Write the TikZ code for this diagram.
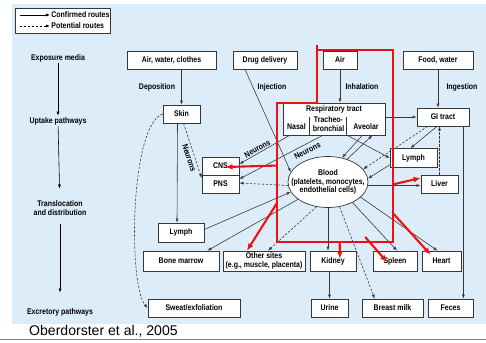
\documentclass[tikz,border=0pt]{standalone}
\usepackage{fontspec}
\setmainfont{Liberation Sans}[FakeStretch=0.85]
\newfontfamily\citefont{Liberation Sans}
\usetikzlibrary{arrows.meta,calc,shapes.geometric}
\definecolor{panelblue}{RGB}{221,236,249}
\definecolor{linegray}{RGB}{55,55,55}
\definecolor{routered}{RGB}{236,18,18}
\begin{document}
\begin{tikzpicture}
		[x=0.03cm,y=-0.03cm,
		box/.style={rectangle,draw=linegray,fill=white,line width=0.6pt,minimum height=0.54cm,inner sep=1pt,font=\fontsize{7}{7.5}\selectfont\bfseries,align=center},
		pool/.style={ellipse,draw=linegray,fill=white,line width=0.6pt,minimum width=2.4cm,minimum height=1.53cm,inner sep=0pt},
		plain/.style={draw=none,fill=none,inner sep=1pt,font=\fontsize{7}{7.5}\selectfont\bfseries,align=center},
		confirmed/.style={draw=linegray,line width=0.5pt,-{Latex[length=3.5pt,width=2.6pt]}},
		potential/.style={confirmed,dash pattern=on 2pt off 1.4pt},
		redpath/.style={draw=routered,line width=1.8pt,-{Latex[length=6pt,width=5pt]}}
		]
		\useasboundingbox (0,0) rectangle (486,342);
		\fill[panelblue] (12,4) rectangle (486,324);
		\draw[gray,line width=0.8pt] (0,339) -- (486,339);

		\node[box,minimum width=2.85cm,minimum height=0.75cm] (legend) at (62.5,20.5) {};
		\node[plain,anchor=west] (ctext) at (50,15) {Confirmed routes};
		\node[plain,anchor=west] (ptext) at (50,26) {Potential routes};
		\draw[confirmed,draw=black] ($(ctext.west)+(-30,0)$) -- (ctext.west);
		\draw[potential,draw=black] ($(ptext.west)+(-30,0)$) -- (ptext.west);

		\node[plain] (expo) at (58,58) {Exposure media};
		\node[plain] (uptake) at (58,121) {Uptake pathways};
		\node[plain] (transl) at (60,208) {Translocation\\and distribution};
		\node[plain] (excr) at (60,312) {Excretory pathways};
		\draw[confirmed,draw=black] (expo) -- (uptake);
		\draw[confirmed,draw=black,shorten >=9pt] (uptake) -- (transl);
		\draw[confirmed,draw=black,shorten <=6pt,shorten >=12pt] (transl) -- (excr);

		\node[box,minimum width=2.67cm] (awc) at (171.5,60) {Air, water, clothes};
		\node[box,minimum width=1.92cm] (drug) at (265,60) {Drug delivery};
		\node[box,minimum width=1.02cm] (air) at (340,60) {Air};
		\node[box,minimum width=2.1cm] (food) at (438,60) {Food, water};

		\node[plain] (dep) at (157,87) {Deposition};
		\node[plain] (inj) at (272,87) {Injection};
		\node[plain] (inh) at (362,87) {Inhalation};
		\node[plain] (ing) at (462,87) {Ingestion};

		\node[box,minimum width=1.11cm] (skin) at (181.5,114) {Skin};
		\node[box,minimum width=3.06cm,minimum height=0.96cm] (resp) at (334,119) {};
		\node[plain] (resptitle) at (334,109) {Respiratory tract};
		\node[plain] (nasal) at (296.5,127) {Nasal};
		\node[plain] (trach) at (328.5,124) {Tracheo-\\bronchial};
		\node[plain] (alv) at (366,127) {Aveolar};
		\draw[linegray,line width=0.6pt] ($(resp.south west)+(27,0)$) -- +(0,-18);
		\draw[linegray,line width=0.6pt] ($(resp.south west)+(64,0)$) -- +(0,-18);
		\node[box,minimum width=1.56cm] (gi) at (443,117) {GI tract};

		\node[box,minimum width=1.11cm] (cns) at (220.5,166) {CNS};
		\node[box,minimum width=1.11cm] (pns) at (220.5,184) {PNS};
		\node[pool] (blood) at (328,182) {};
		\node[plain] (bloodtext) at (blood) {Blood\\(platelets, monocytes,\\endothelial cells)};
		\node[box,minimum width=1.41cm,minimum height=0.57cm] (lymphR) at (413.5,158) {Lymph};
		\node[box,minimum width=1.11cm] (liver) at (439.5,184) {Liver};
		\node[box,minimum width=1.38cm,minimum height=0.57cm] (lymphL) at (181,232.5) {Lymph};

		\node[box,minimum width=2.28cm,minimum height=0.6cm] (bone) at (181,261) {Bone marrow};
		\node[box,minimum width=2.46cm,minimum height=0.6cm] (other) at (264,261) {Other sites\\(e.g., muscle, placenta)};
		\node[box,minimum width=1.38cm,minimum height=0.6cm] (kidney) at (333,261) {Kidney};
		\node[box,minimum width=1.32cm,minimum height=0.6cm] (spleen) at (395,261) {Spleen};
		\node[box,minimum width=1.17cm,minimum height=0.6cm] (heart) at (441.5,261) {Heart};

		\node[box,minimum width=2.76cm] (sweat) at (194,308) {Sweat/exfoliation};
		\node[box,minimum width=1.11cm] (urine) at (329.5,308) {Urine};
		\node[box,minimum width=1.83cm] (milk) at (392.5,308) {Breast milk};
		\node[box,minimum width=1.35cm] (feces) at (450.5,308) {Feces};

		\draw[confirmed] (skin.north |- awc.south) -- (skin.north);
		\draw[confirmed] ($(drug.south)+(-20,0)$) -- (blood.165);
		\draw[confirmed] (air.south) -- (air.south |- resp.north);
		\draw[confirmed] (food.south) -- (food.south |- gi.north);
		\draw[confirmed] (resp.east |- gi.west) -- (gi.west);

		\draw[confirmed] ($(skin.south)+(-4,0)$) -- ($(lymphL.north)+(-4,0)$);
		\draw[potential] ($(skin.south)+(2,0)$) -- node[plain,sloped,below=1pt,pos=0.6] {Neurons} ($(pns.west)+(0,-6)$);
		\draw[potential] (skin.west) .. controls (130,125) and (128,285) .. (sweat.west);
		\draw[confirmed] ($(resp.south west)+(7,0)$) -- node[plain,sloped,above,pos=0.6] {Neurons} ($(cns.east)+(0,-2)$);
		\draw[confirmed] ($(resp.south west)+(40,0)$) -- node[plain,sloped,below=2pt,pos=0.22] {Neurons} ($(pns.east)+(0,-5)$);
		\draw[potential] (blood.185) -- ($(pns.east)+(0,-1)$);

		\draw[confirmed] ($(resp.south east)+(-23,0)$) -- (blood.60);
		\draw[confirmed] (blood.50) -- ($(resp.south east)+(-13,0)$);
		\draw[confirmed] ($(resp.south east)+(-38,0)$) -- (lymphR.west);
		\draw[confirmed] ($(lymphR.south west)+(0,-3)$) -- (blood.5);
		\draw[confirmed] ($(gi.south)+(-6,0)$) -- ($(lymphR.north)+(-3,0)$);
		\draw[potential] ($(gi.south west)+(11,0)$) -- (blood.20);
		\draw[potential] (liver.north) -- (liver.north |- gi.south);
		\draw[confirmed] (blood.-5) -- (blood.-5 -| liver.west);
		\coordinate (gifoot) at ($(gi.south east)+(-6,0)$);
		\draw[confirmed] (gifoot) -- (gifoot |- feces.north);

		\draw[confirmed] (blood.-25) -- ($(heart.north)+(-4,0)$);
		\draw[confirmed] (blood.-40) -- ($(spleen.north)+(2,0)$);
		\draw[confirmed] (blood.south) -- (blood.south |- kidney.north);
		\draw[potential] (blood.-65) -- ($(milk.north west)+(13,0)$);
		\draw[potential] (blood.-115) -- ($(other.north)+(4,0)$);
		\draw[confirmed] (blood.-150) -- ($(bone.north east)+(-12,0)$);
		\draw[confirmed] ($(lymphL.east)+(0,-3)$) -- (blood.-165);
		\draw[confirmed] (urine.north |- kidney.south) -- (urine.north);

		\coordinate (r1) at (317,45);
		\coordinate (r2) at (317,103);
		\coordinate (r3) at (277,103);
		\coordinate (r4) at (277,242);
		\coordinate (r5) at (393,242);
		\coordinate (r6) at (393,50);
		\coordinate (r7) at (317,50);
		\draw[routered,line width=1.8pt] (r1) -- (r2) -- (r3) -- (r4) -- (r5) -- (r6) -- (r7);
		\draw[redpath] ($(r3)!.45!(r4)$) -- ($(cns.center)+(5,1)$);
		\draw[redpath] ($(r6)!.70!(r5)$) -- ($(liver.west)+(0,-6)$);
		\draw[redpath] ($(r3)!.72!(r4)$) -- ($(other.north)+(-17,0)$);
		\draw[redpath] ($(r4)!.54!(r5)$) -- ($(kidney.north)+(7,8)$);
		\draw[redpath] ($(r4)!.76!(r5)+(0,-5)$) -- ($(spleen.center)+(-8,1)$);
		\draw[redpath] ($(r6)!.85!(r5)$) -- ($(heart.north)+(-11,4)$);

		\node[anchor=west,inner sep=0pt,font=\citefont\fontsize{12}{14}\selectfont] (cite) at (29,331) {Oberdorster et al., 2005};
	\end{tikzpicture}
\end{document}
